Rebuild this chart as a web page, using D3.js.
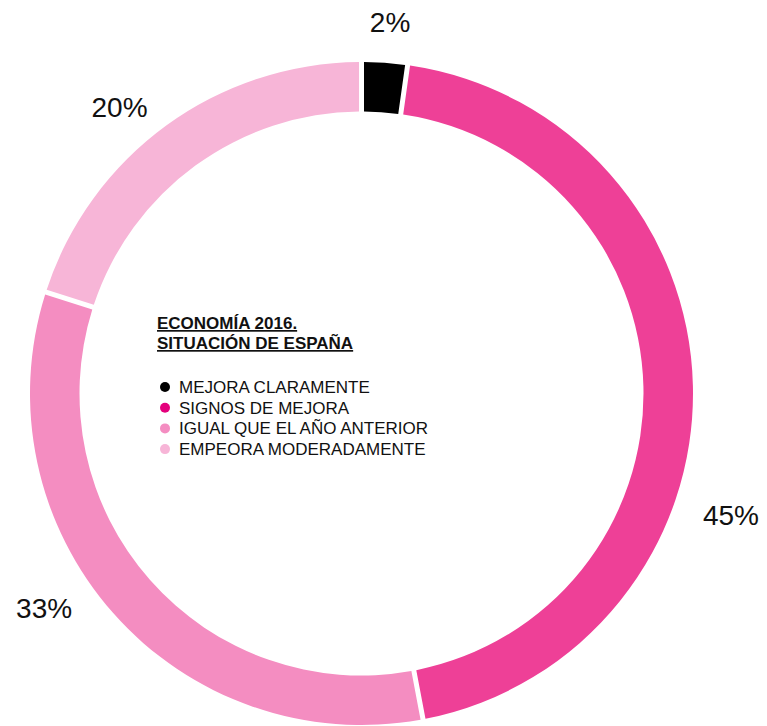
<!DOCTYPE html>
<html>
<head>
<meta charset="utf-8">
<script src="https://cdn.jsdelivr.net/npm/d3@7/dist/d3.min.js"></script>
<style>
  html, body { margin: 0; padding: 0; background: #fff; }
  svg { display: block; font-family: "Liberation Sans", Arial, sans-serif; }
</style>
</head>
<body>
<svg id="chart" width="767" height="726"></svg>
<script>
// Encuesta: situación de la economía española en 2016
const categories = ["MEJORA CLARAMENTE", "SIGNOS DE MEJORA", "IGUAL QUE EL AÑO ANTERIOR", "EMPEORA MODERADAMENTE"];
const values = [2, 45, 33, 20];
const valueLabels = ["2%", "45%", "33%", "20%"];
const titleLines = ["ECONOMÍA 2016.", "SITUACIÓN DE ESPAÑA"];

const ringColors = ["#000000", "#ee4097", "#f48dc1", "#f7b5d7"];
const legendColors = ["#000000", "#e4007c", "#f48dc1", "#f7b5d7"];

const width = 767, height = 726;
const cx = 361.5, cy = 393.5;
const outerR = 331.5, innerR = 282;
const gap = 5;

const svg = d3.select("#chart");
const g = svg.append("g").attr("transform", `translate(${cx},${cy})`);

const pie = d3.pie().sort(null).value(d => d).padAngle(gap / outerR);
const arcs = pie(values);
const arc = d3.arc().innerRadius(innerR).outerRadius(outerR).padRadius(outerR);

g.selectAll("path.slice")
  .data(arcs)
  .join("path")
  .attr("class", "slice")
  .attr("d", arc)
  .attr("fill", (d, i) => ringColors[i]);

// Percentage labels sit outside the ring, each nudged off its slice's middle angle
const labelSpots = [
  { shift: 0.4, r: 373 },
  { shift: 19.6, r: 389 },
  { shift: 7.4, r: 383 },
  { shift: -4.1, r: 375 }
];
const toDeg = 180 / Math.PI;
g.selectAll("text.pct")
  .data(arcs)
  .join("text")
  .attr("class", "pct")
  .attr("text-anchor", "middle")
  .attr("font-size", 28)
  .attr("fill", "#111")
  .attr("x", (d, i) => {
    const a = ((d.startAngle + d.endAngle) / 2) * toDeg + labelSpots[i].shift;
    return labelSpots[i].r * Math.sin(a / toDeg);
  })
  .attr("y", (d, i) => {
    const a = ((d.startAngle + d.endAngle) / 2) * toDeg + labelSpots[i].shift;
    return -labelSpots[i].r * Math.cos(a / toDeg) + 10;
  })
  .text((d, i) => valueLabels[i]);

// Title and legend in the hole of the ring
const legend = svg.append("g").attr("transform", "translate(157,0)");

legend.selectAll("text.title")
  .data(titleLines)
  .join("text")
  .attr("class", "title")
  .attr("x", 0)
  .attr("y", (d, i) => 329 + i * 20)
  .attr("font-size", 17)
  .attr("font-weight", "bold")
  .attr("fill", "#111")
  .attr("text-decoration", "underline")
  .text(d => d);

const item = legend.selectAll("g.item")
  .data(categories)
  .join("g")
  .attr("class", "item")
  .attr("transform", (d, i) => `translate(0,${393 + i * 20.7})`);

item.append("circle")
  .attr("cx", 8)
  .attr("cy", -6)
  .attr("r", 5)
  .attr("fill", (d, i) => legendColors[i]);

item.append("text")
  .attr("x", 22)
  .attr("y", 0)
  .attr("font-size", 17)
  .attr("fill", "#111")
  .text(d => d);
</script>
</body>
</html>
